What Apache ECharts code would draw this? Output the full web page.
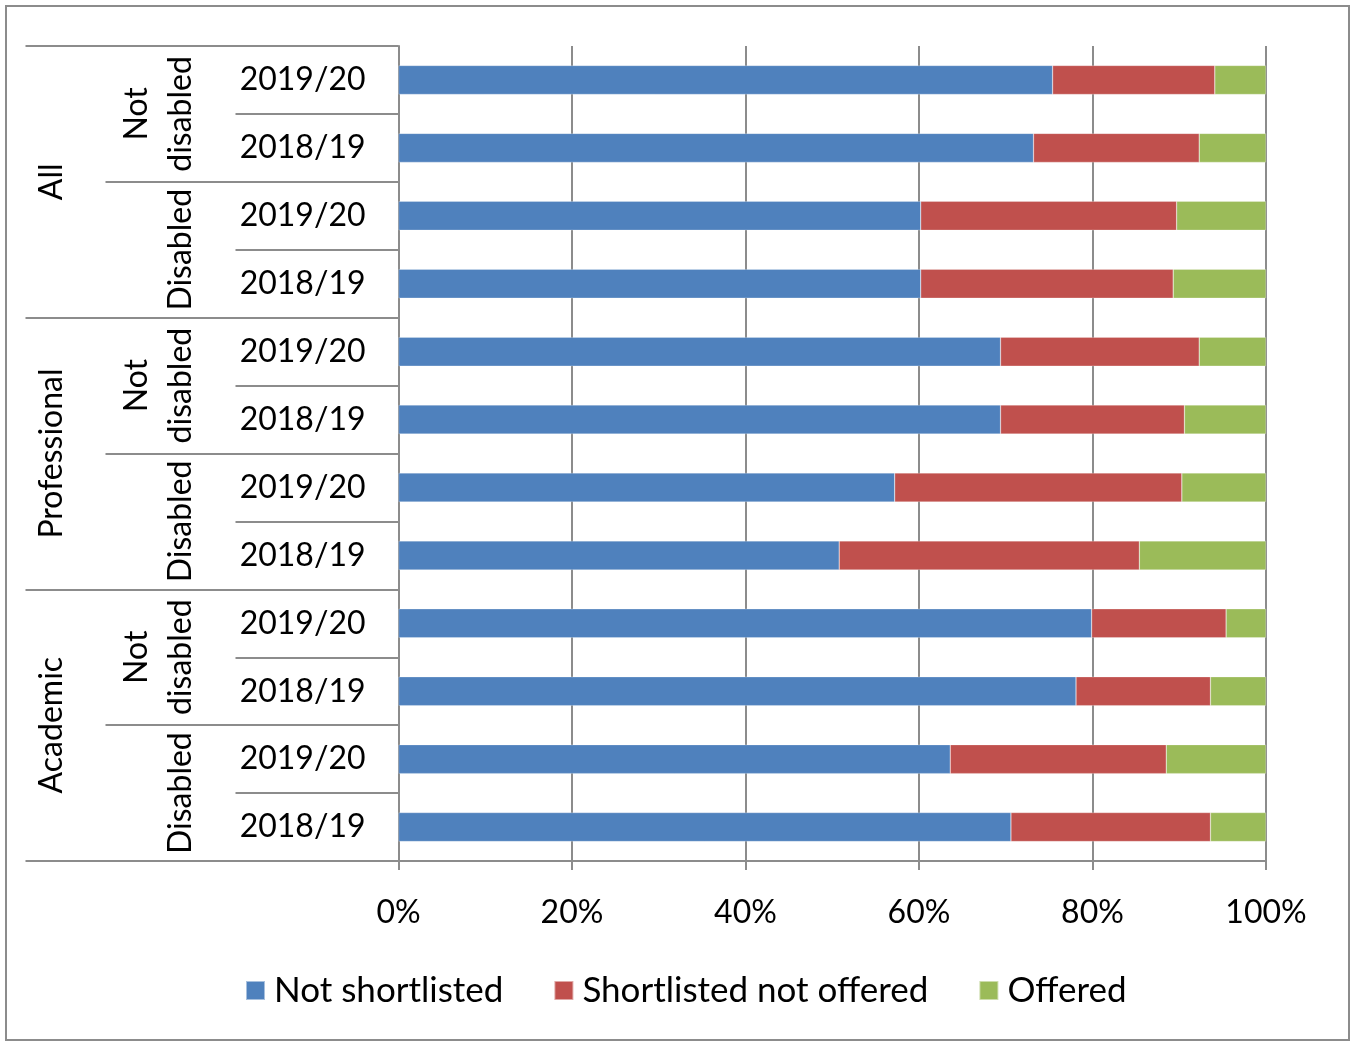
<!DOCTYPE html>
<html>
<head>
<meta charset="utf-8">
<title>Shortlisting outcomes by disability status</title>
<script src="https://cdn.jsdelivr.net/npm/echarts@6/dist/echarts.min.js"></script>
<style>
  html, body { margin: 0; padding: 0; background: #fff; }
  #chart { width: 1351px; height: 1043px; }
</style>
</head>
<body>
<div id="chart"></div>
<script>
// Rows listed top to bottom
const years = ['2019/20', '2018/19', '2019/20', '2018/19', '2019/20', '2018/19',
               '2019/20', '2018/19', '2019/20', '2018/19', '2019/20', '2018/19'];
const statusGroups = ['Not\ndisabled', 'Disabled', 'Not\ndisabled', 'Disabled', 'Not\ndisabled', 'Disabled'];
const staffGroups = ['All', 'Professional', 'Academic'];

const seriesNames = ['Not shortlisted', 'Shortlisted not offered', 'Offered'];
const notShortlisted = [75.4, 73.2, 60.2, 60.2, 69.4, 69.4, 57.2, 50.8, 79.9, 78.1, 63.6, 70.6];
const shortlistedNotOffered = [18.7, 19.1, 29.5, 29.1, 22.9, 21.2, 33.1, 34.6, 15.5, 15.5, 24.9, 23.0];
const offered = [5.9, 7.7, 10.3, 10.7, 7.7, 9.4, 9.7, 14.6, 4.6, 6.4, 11.5, 6.4];

const xTicks = [0, 20, 40, 60, 80, 100];

const FONT = 'Lato';
const GREY = '#8c8c8c';
const colors = ['#4f81bd', '#c0504d', '#9bbb59'];

const chart = echarts.init(document.getElementById('chart'));

function catAxis(data, tickLen, margin, rotate, show) {
  return {
    type: 'category',
    data: data,
    inverse: true,
    position: 'left',
    boundaryGap: true,
    axisLine: { show: show, lineStyle: { color: GREY, width: 2 } },
    axisTick: { show: true, length: tickLen, interval: 0, lineStyle: { color: GREY, width: 2 } },
    axisLabel: {
      interval: 0, margin: margin, rotate: rotate,
      color: '#000', fontFamily: FONT, fontSize: 32, lineHeight: 44
    },
    splitLine: { show: false }
  };
}

chart.setOption({
  animation: false,
  backgroundColor: '#fff',
  textStyle: { fontFamily: FONT },
  graphic: [{
    type: 'rect', silent: true, z: -1,
    shape: { x: 6, y: 6, width: 1343, height: 1034 },
    style: { fill: 'none', stroke: GREY, lineWidth: 2 }
  }],
  grid: { left: 398.5, right: 85, top: 46, bottom: 182, containLabel: false },
  legend: {
    bottom: 30, left: 240,
    itemWidth: 19, itemHeight: 19, itemGap: 50,
    icon: 'rect',
    textStyle: { fontFamily: FONT, fontSize: 35, color: '#000', padding: [0, 0, 0, 4] },
    data: seriesNames
  },
  xAxis: {
    type: 'value', min: 0, max: 100, interval: 20,
    axisLine: { show: true, lineStyle: { color: GREY, width: 2 } },
    axisTick: { show: true, length: 9, lineStyle: { color: GREY, width: 2 } },
    splitLine: { show: true, lineStyle: { color: GREY, width: 2 } },
    axisLabel: {
      margin: 36, color: '#000', fontFamily: FONT, fontSize: 32,
      formatter: v => (xTicks.indexOf(v) >= 0 ? v + '%' : '')
    }
  },
  yAxis: [
    catAxis(years, 163, 33, 0, true),
    catAxis(statusGroups, 293, 196, 90, false),
    catAxis(staffGroups, 373, 325, 90, false)
  ],
  series: [notShortlisted, shortlistedNotOffered, offered].map((vals, i) => ({
    name: seriesNames[i],
    type: 'bar',
    stack: 'total',
    yAxisIndex: 0,
    barWidth: 29,
    itemStyle: { color: colors[i], borderColor: 'rgba(255,255,255,0.5)', borderWidth: 0.5 },
    data: vals
  }))
});
</script>
</body>
</html>
